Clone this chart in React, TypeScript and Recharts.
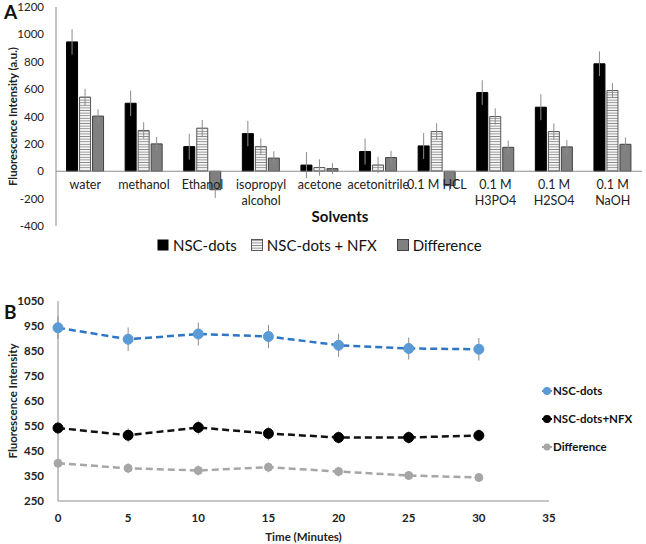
import {
  Bar,
  BarChart,
  ErrorBar,
  Line,
  LineChart,
  ReferenceLine,
  XAxis,
  YAxis,
} from "recharts";

// Panel A – solvent screening
const solvents = [
  "water",
  "methanol",
  "Ethanol",
  "isopropyl\nalcohol",
  "acetone",
  "acetonitrile",
  "0.1 M HCL",
  "0.1 M\nH3PO4",
  "0.1 M\nH2SO4",
  "0.1 M\nNaOH",
];
const nscDots = [945, 497, 180, 275, 45, 144, 185, 575, 468, 785];
const nscDotsErr = [93, 93, 95, 93, 95, 95, 95, 90, 95, 90];
const nscNfx = [542, 298, 315, 180, 27, 46, 290, 400, 290, 590];
const nscNfxErr = [60, 60, 60, 60, 60, 60, 60, 60, 60, 55];
const difference = [403, 200, -135, 96, 19, 100, -105, 175, 178, 197];
const differenceErr = [50, 50, 60, 50, 40, 50, 40, 50, 50, 50];
const yTicksA = [-400, -200, 0, 200, 400, 600, 800, 1000, 1200];

// Panel B – stability over time
const minutes = [0, 5, 10, 15, 20, 25, 30];
const dotsTime = [943, 897, 918, 908, 873, 860, 857];
const dotsTimeErr = [45, 47, 46, 47, 46, 44, 45];
const nfxTime = [542, 513, 544, 520, 504, 504, 512];
const nfxTimeErr = [25, 28, 28, 28, 25, 25, 25];
const diffTime = [401, 381, 372, 385, 368, 352, 344];
const diffTimeErr = [18, 20, 20, 20, 20, 18, 18];
const yTicksB = [250, 350, 450, 550, 650, 750, 850, 950, 1050];
const xTicksB = [0, 5, 10, 15, 20, 25, 30, 35];

const barData = solvents.map((name, i) => ({
  name,
  dots: nscDots[i],
  dotsErr: nscDotsErr[i],
  nfx: nscNfx[i],
  nfxErr: nscNfxErr[i],
  diff: difference[i],
  diffErr: differenceErr[i],
}));

const lineData = minutes.map((t, i) => ({
  t,
  dots: dotsTime[i],
  dotsErr: dotsTimeErr[i],
  nfx: nfxTime[i],
  nfxErr: nfxTimeErr[i],
  diff: diffTime[i],
  diffErr: diffTimeErr[i],
}));

const FONT = "Lato, 'Open Sans', sans-serif";
const AXIS = "#8c8c8c";

// category labels sit under the zero line, not at the bottom of the plot
const SolventTick = (props: any) => {
  const { x, y, payload } = props;
  const lines = String(payload.value).split("\n");
  return (
    <text x={x} y={y - 45} textAnchor="middle" fontSize={12.5} fill="#222" fontFamily={FONT}>
      {lines.map((l, i) => (
        <tspan key={i} x={x} dy={i === 0 ? 0 : 16}>
          {l}
        </tspan>
      ))}
    </text>
  );
};

const Swatch = ({ kind }: { kind: "black" | "stripe" | "gray" }) => (
  <svg width={12} height={12} style={{ marginRight: 4 }}>
    {kind === "black" && <rect x={0.5} y={0.5} width={11} height={11} fill="#000" />}
    {kind === "stripe" && <rect x={0.5} y={0.5} width={11} height={11} fill="url(#stripesLegend)" stroke="#595959" />}
    {kind === "gray" && <rect x={0.5} y={0.5} width={11} height={11} fill="#808080" stroke="#404040" />}
  </svg>
);

const LineKey = ({ color, r }: { color: string; r: number }) => (
  <svg width={10} height={10} style={{ marginRight: 1 }}>
    <line x1={0} y1={5} x2={10} y2={5} stroke={color} strokeWidth={2} />
    <circle cx={5} cy={5} r={r} fill={color} />
  </svg>
);

export default function App() {
  return (
    <div style={{ position: "absolute", left: 0, top: 0, width: 646, height: 544, background: "#fff", fontFamily: FONT }}>
      <svg width={0} height={0} style={{ position: "absolute" }}>
        <defs>
          <pattern id="stripesLegend" width={4} height={2.6} patternUnits="userSpaceOnUse">
            <rect width={4} height={2.6} fill="#fff" />
            <line x1={0} y1={1.3} x2={4} y2={1.3} stroke="#8c8c8c" strokeWidth={1} />
          </pattern>
        </defs>
      </svg>

      <div style={{ position: "absolute", left: 0, top: 0 }}>
        <BarChart
          width={646}
          height={260}
          data={barData}
          margin={{ top: 7, right: 4, bottom: 4, left: 10 }}
          barCategoryGap="18%"
          barGap={2}
        >
          <defs>
            <pattern id="stripes" width={4} height={2.6} patternUnits="userSpaceOnUse">
              <rect width={4} height={2.6} fill="#fff" />
              <line x1={0} y1={1.3} x2={4} y2={1.3} stroke="#8c8c8c" strokeWidth={1} />
            </pattern>
          </defs>
          <XAxis dataKey="name" axisLine={false} tickLine={false} tick={<SolventTick />} height={30} interval={0} />
          <YAxis
            domain={[-400, 1200]}
            ticks={yTicksA}
            width={46}
            axisLine={{ stroke: AXIS }}
            tickLine={false}
            tick={{ fontSize: 11.5, fill: "#222", fontFamily: FONT }}
            tickMargin={6}
            label={{
              value: "Fluorescence Intensity (a.u.)",
              angle: -90,
              position: "insideLeft",
              offset: 3,
              style: { textAnchor: "middle", fontSize: 11.3, fontWeight: 700, fill: "#222", fontFamily: FONT },
            }}
          />
          <ReferenceLine y={0} stroke={AXIS} />
          <Bar dataKey="dots" fill="#000" stroke="#000" isAnimationActive={false}>
            <ErrorBar dataKey="dotsErr" width={0} stroke="#8c8c8c" strokeWidth={1} />
          </Bar>
          <Bar dataKey="nfx" fill="url(#stripes)" stroke="#595959" isAnimationActive={false}>
            <ErrorBar dataKey="nfxErr" width={0} stroke="#8c8c8c" strokeWidth={1} />
          </Bar>
          <Bar dataKey="diff" fill="#808080" stroke="#404040" isAnimationActive={false}>
            <ErrorBar dataKey="diffErr" width={0} stroke="#8c8c8c" strokeWidth={1} />
          </Bar>
        </BarChart>
      </div>

      <div style={{ position: "absolute", left: 4, top: 1, fontSize: 19, fontWeight: 700, color: "#111", lineHeight: "22px" }}>A</div>
      <div style={{ position: "absolute", left: 290, top: 207, width: 100, textAlign: "center", fontSize: 15, fontWeight: 700, color: "#111" }}>
        Solvents
      </div>
      <div
        style={{
          position: "absolute",
          left: 157,
          top: 236,
          display: "flex",
          alignItems: "center",
          fontSize: 15,
          color: "#111",
          whiteSpace: "nowrap",
        }}
      >
        <Swatch kind="black" />
        <span style={{ marginRight: 14 }}>NSC-dots</span>
        <Swatch kind="stripe" />
        <span style={{ marginRight: 20 }}>NSC-dots + NFX</span>
        <Swatch kind="gray" />
        <span>Difference</span>
      </div>

      <div style={{ position: "absolute", left: 0, top: 260 }}>
        <LineChart width={646} height={284} data={lineData} margin={{ top: 41, right: 97, bottom: 3, left: 10 }}>
          <XAxis
            dataKey="t"
            type="number"
            domain={[0, 35]}
            ticks={xTicksB}
            axisLine={{ stroke: AXIS }}
            tickLine={false}
            tick={{ fontSize: 11.5, fontWeight: 700, fill: "#222", fontFamily: FONT }}
            tickMargin={7}
            height={40}
            label={{
              value: "Time (Minutes)",
              position: "insideBottom",
              offset: 0,
              style: { fontSize: 11.5, fontWeight: 700, fill: "#222", fontFamily: FONT },
            }}
          />
          <YAxis
            domain={[250, 1050]}
            ticks={yTicksB}
            width={48}
            axisLine={{ stroke: AXIS }}
            tickLine={false}
            tick={{ fontSize: 11.5, fontWeight: 700, fill: "#222", fontFamily: FONT }}
            tickMargin={8}
            label={{
              value: "Fluorescence Intensity",
              angle: -90,
              position: "insideLeft",
              offset: 3,
              style: { textAnchor: "middle", fontSize: 11.5, fontWeight: 700, fill: "#222", fontFamily: FONT },
            }}
          />
          <Line
            dataKey="dots"
            stroke="#2e75c6"
            strokeWidth={2.5}
            strokeDasharray="7 4"
            dot={{ r: 5, fill: "#5b9bd5", stroke: "#5b9bd5", strokeWidth: 1, strokeDasharray: "" }}
            isAnimationActive={false}
          >
            <ErrorBar dataKey="dotsErr" width={0} stroke="#8c8c8c" strokeWidth={1} direction="y" />
          </Line>
          <Line
            dataKey="nfx"
            stroke="#111"
            strokeWidth={2.5}
            strokeDasharray="7 4"
            dot={{ r: 5, fill: "#000", stroke: "#000", strokeWidth: 1, strokeDasharray: "" }}
            isAnimationActive={false}
          >
            <ErrorBar dataKey="nfxErr" width={0} stroke="#8c8c8c" strokeWidth={1} direction="y" />
          </Line>
          <Line
            dataKey="diff"
            stroke="#a6a6a6"
            strokeWidth={2.5}
            strokeDasharray="7 4"
            dot={{ r: 4, fill: "#a6a6a6", stroke: "#a6a6a6", strokeWidth: 1, strokeDasharray: "" }}
            isAnimationActive={false}
          >
            <ErrorBar dataKey="diffErr" width={0} stroke="#a6a6a6" strokeWidth={1} direction="y" />
          </Line>
        </LineChart>
      </div>

      <div style={{ position: "absolute", left: 4, top: 300, fontSize: 19, fontWeight: 700, color: "#111" }}>B</div>
      <div style={{ position: "absolute", left: 542, top: 384, fontSize: 11.5, fontWeight: 700, color: "#111", lineHeight: "14px" }}>
        <div style={{ display: "flex", alignItems: "center", height: 14 }}>
          <LineKey color="#5b9bd5" r={4} />
          NSC-dots
        </div>
        <div style={{ display: "flex", alignItems: "center", height: 14, marginTop: 14 }}>
          <LineKey color="#000" r={4} />
          NSC-dots+NFX
        </div>
        <div style={{ display: "flex", alignItems: "center", height: 14, marginTop: 14 }}>
          <LineKey color="#a6a6a6" r={3.5} />
          Difference
        </div>
      </div>
    </div>
  );
}
